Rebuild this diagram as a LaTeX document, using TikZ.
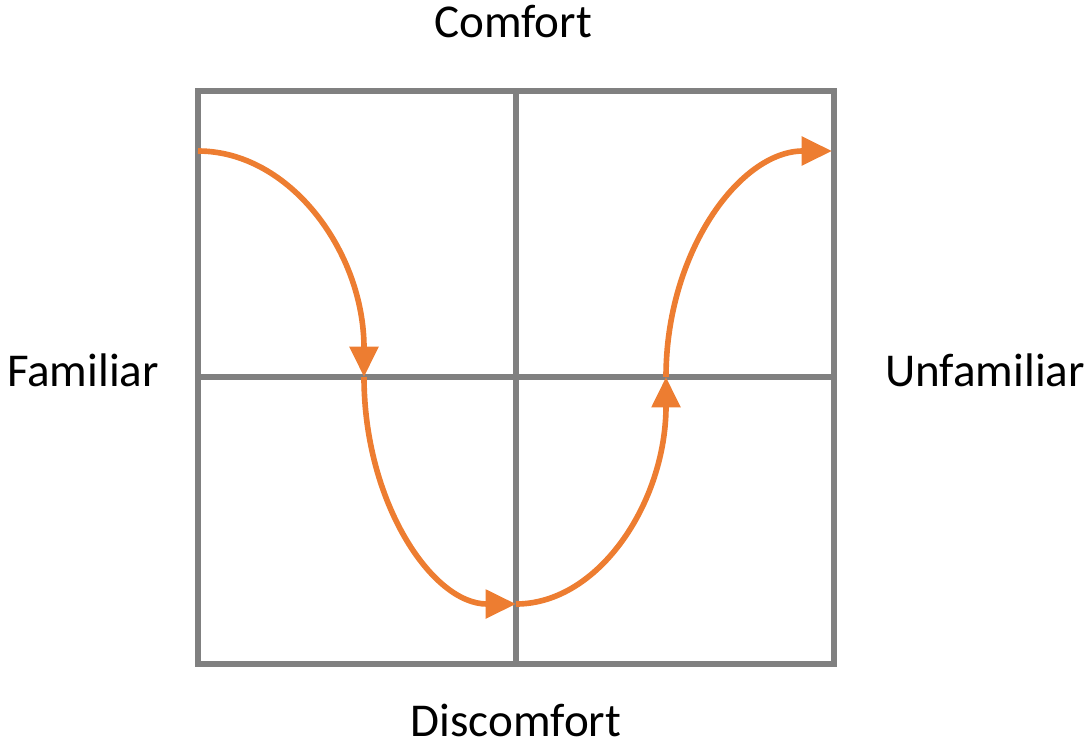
\documentclass[tikz,border=0pt]{standalone}
\usepackage{fontspec}
\setmainfont{Carlito}
\usetikzlibrary{arrows.meta}
\definecolor{gridgray}{HTML}{808080}
\definecolor{pathorange}{HTML}{ED7D31}
\begin{document}
\begin{tikzpicture}[
    x=0.025cm, y=-0.025cm,
    font=\fontsize{33.5}{40}\selectfont,
    label/.style={anchor=base, inner sep=0pt},
    grid/.style={draw=gridgray, line width=4.2pt},
    arrow/.style={draw=pathorange, line width=4pt, -{Triangle[length=0.76cm, width=0.7cm]}}
]
\useasboundingbox (0,0) rectangle (1089,751);

% --- Grid ---
\draw [grid] (198,91) rectangle (834,664);
\draw [grid] (516,91) -- (516,664);
\draw [grid] (198,377) -- (834,377);

% --- Nodes ---
\node (comfort) at (513,37) [label] {Comfort};
\node (discomfort) at (516,736) [label] {Discomfort};
\node (familiar) at (83,386) [label] {Familiar};
\node (unfamiliar) at (985,386) [label] {Unfamiliar};

% Path points
\coordinate (start) at (198,151);
\coordinate (down) at (364,377);
\coordinate (bottom) at (516,604);
\coordinate (up) at (666,377);
\coordinate (finish) at (832,151);

% --- Edges ---
\draw [arrow] (start) .. controls +(92,0) and +(0,-125) .. (down);
\draw [arrow] (down) .. controls +(0,125) and +(-84,0) .. (bottom);
\draw [arrow] (bottom) .. controls +(83,0) and +(0,125) .. (up);
\draw [arrow] (up) .. controls +(0,-125) and +(-92,0) .. (finish);

\end{tikzpicture}
\end{document}
